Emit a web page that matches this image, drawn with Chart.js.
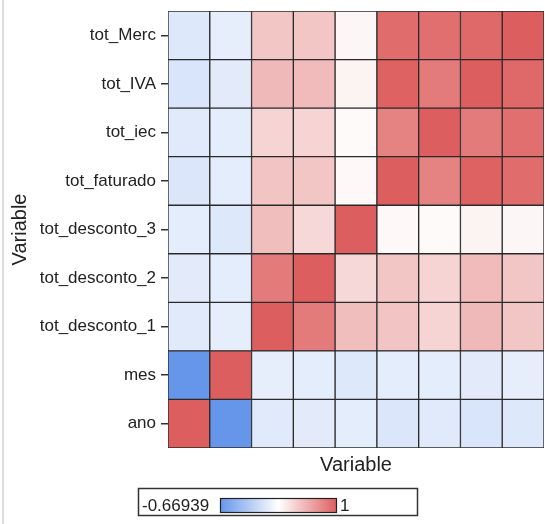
<!DOCTYPE html>
<html>
<head>
<meta charset="utf-8">
<script src="https://cdn.jsdelivr.net/npm/chart.js@4.4.0/dist/chart.umd.min.js"></script>
<style>
html, body { margin: 0; padding: 0; background: #fff; }
</style>
</head>
<body>
<canvas id="heat" width="545" height="524"></canvas>
<script>
// variables, bottom->top on y and left->right on x
var varNames = ['ano', 'mes', 'tot_desconto_1', 'tot_desconto_2', 'tot_desconto_3',
                'tot_faturado', 'tot_iec', 'tot_IVA', 'tot_Merc'];

// correlation rows (same order as varNames)
var corrAno   = [1, -0.66939, 0.00, 0.01, 0.02, -0.03, 0.00, -0.04, -0.02];
var corrMes   = [-0.66939, 1, 0.03, 0.02, -0.02, 0.02, 0.02, 0.01, 0.03];
var corrDesc1 = [0.00, 0.03, 1, 0.85, 0.50, 0.47, 0.39, 0.53, 0.46];
var corrDesc2 = [0.01, 0.02, 0.85, 1, 0.37, 0.46, 0.39, 0.52, 0.46];
var corrDesc3 = [0.02, -0.02, 0.50, 0.37, 1, 0.20, 0.19, 0.23, 0.21];
var corrFat   = [-0.03, 0.02, 0.47, 0.46, 0.20, 1, 0.81, 0.98, 0.93];
var corrIec   = [0.00, 0.02, 0.39, 0.39, 0.19, 0.81, 1, 0.85, 0.91];
var corrIva   = [-0.04, 0.01, 0.53, 0.52, 0.23, 0.98, 0.85, 1, 0.95];
var corrMerc  = [-0.02, 0.03, 0.46, 0.46, 0.21, 0.93, 0.91, 0.95, 1];

var corrRows = [corrAno, corrMes, corrDesc1, corrDesc2, corrDesc3, corrFat, corrIec, corrIva, corrMerc];

var minVal = -0.66939;
var maxVal = 1;

var blue = [102, 150, 234];
var red = [221, 94, 94];

function rampColor(v) {
  var mid = (minVal + maxVal) / 2;
  var half = (maxVal - minVal) / 2;
  var f, c;
  if (v < mid) { f = (mid - v) / half; c = blue; }
  else { f = (v - mid) / half; c = red; }
  if (f > 1) f = 1;
  var r = Math.round(255 + (c[0] - 255) * f);
  var g = Math.round(255 + (c[1] - 255) * f);
  var b = Math.round(255 + (c[2] - 255) * f);
  return 'rgb(' + r + ',' + g + ',' + b + ')';
}

var datasets = [];
for (var i = 0; i < corrRows.length; i++) {
  var row = corrRows[i];
  datasets.push({
    label: varNames[i],
    data: row.map(function () { return 1; }), // one cell tall
    backgroundColor: row.map(rampColor),
    borderColor: '#2a2a2a',
    borderWidth: 1,
    borderSkipped: false,
    barPercentage: 1,
    categoryPercentage: 1
  });
}

var colorLegend = {
  id: 'colorLegend',
  beforeDraw: function (chart) {
    var ctx = chart.ctx;
    ctx.save();
    ctx.fillStyle = '#fff';
    ctx.fillRect(0, 0, chart.width, chart.height);
    ctx.fillStyle = '#dcdcdc';
    ctx.fillRect(2, 0, 2, chart.height);
    ctx.restore();
  },
  afterDraw: function (chart) {
    var ctx = chart.ctx;
    ctx.save();
    ctx.strokeStyle = '#333';
    ctx.lineWidth = 1.5;
    ctx.strokeRect(138.5, 488.5, 279, 27);

    var grad = ctx.createLinearGradient(220, 0, 337, 0);
    grad.addColorStop(0, rampColor(minVal));
    grad.addColorStop(0.5, '#ffffff');
    grad.addColorStop(1, rampColor(maxVal));
    ctx.fillStyle = grad;
    ctx.fillRect(220, 498, 117, 15);
    ctx.strokeStyle = '#222';
    ctx.lineWidth = 1.2;
    ctx.strokeRect(220.5, 498.5, 116, 14);

    ctx.fillStyle = '#222';
    ctx.font = '17px "Liberation Sans", Arial, sans-serif';
    ctx.textBaseline = 'middle';
    ctx.textAlign = 'left';
    ctx.fillText(String(minVal), 142, 506);
    ctx.fillText(String(maxVal), 340, 506);
    ctx.restore();
  }
};

var ctx = document.getElementById('heat').getContext('2d');
var heatChart = new Chart(ctx, {
  type: 'bar',
  data: { labels: varNames, datasets: datasets },
  plugins: [colorLegend],
  options: {
    responsive: false,
    animation: false,
    layout: { padding: { top: 11, right: 1, left: 0, bottom: 0 } },
    plugins: { legend: { display: false }, tooltip: { enabled: false } },
    scales: {
      x: {
        stacked: true,
        ticks: { display: false },
        grid: { display: false },
        border: { display: false },
        title: {
          display: true,
          text: 'Variable',
          color: '#222',
          font: { family: '"Liberation Sans", Arial, sans-serif', size: 20 },
          padding: { top: 0, bottom: 47 }
        },
        afterFit: function (scale) { scale.height = 76; }
      },
      y: {
        stacked: true,
        min: 0,
        max: 9,
        afterBuildTicks: function (scale) {
          scale.ticks = varNames.map(function (n, k) { return { value: k + 0.5 }; });
        },
        ticks: {
          color: '#222',
          padding: 5,
          font: { family: '"Liberation Sans", Arial, sans-serif', size: 17 },
          callback: function (value) { return varNames[Math.floor(value)]; }
        },
        grid: {
          drawOnChartArea: false,
          drawTicks: true,
          tickLength: 7,
          color: '#333',
          lineWidth: 1.5
        },
        border: { display: false },
        title: {
          display: true,
          text: 'Variable',
          color: '#222',
          font: { family: '"Liberation Sans", Arial, sans-serif', size: 20 },
          padding: { top: 8, bottom: 0 }
        },
        afterFit: function (scale) {
          scale.width = 168;
          scale.paddingTop = 0;
          scale.paddingBottom = 0;
        }
      }
    }
  }
});
</script>
</body>
</html>
